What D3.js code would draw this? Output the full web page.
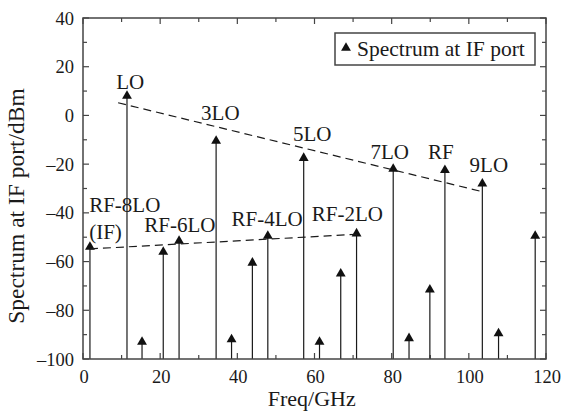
<!DOCTYPE html>
<html>
<head>
<meta charset="utf-8">
<script src="https://cdn.jsdelivr.net/npm/d3@7"></script>
<style>
  body { margin: 0; background: #fff; }
  svg { display: block; font-family: "Liberation Serif", "DejaVu Serif", serif; }
</style>
</head>
<body>
<div class="chart"></div>
<script>
// spectrum lines
const freqs = [1.8, 11.4, 15.3, 20.8, 24.9, 34.5, 38.5, 43.9, 47.9, 57.2, 61.3, 66.8, 70.9, 80.4, 84.5, 89.9, 93.8, 103.5, 107.7, 117.2];
const levels = [-54, 8, -93, -56, -51.5, -10.5, -92, -60.5, -49.5, -17.5, -93, -65, -48.5, -22, -91.5, -71.5, -22.5, -28, -89.5, -49.5];

// annotations (text, freq, level of baseline)
const labelText = ["LO", "3LO", "5LO", "7LO", "RF", "9LO", "RF-8LO", "(IF)", "RF-6LO", "RF-4LO", "RF-2LO"];
const labelFreq = [8.6, 30.6, 54.4, 74.5, 89.4, 100.2, 1.6, 1.6, 15.9, 38.5, 59.3];
const labelLevel = [11, -2, -10.6, -18, -18, -23.4, -39.6, -50.6, -47.9, -45.4, -43.3];

// dashed envelopes
const upperTrend = [[9.1, 5.2], [103.5, -31.3]];
const lowerTrend = [[1.8, -54.8], [72, -48.7]];

const xTicks = [0, 20, 40, 60, 80, 100, 120];
const yTicks = [-100, -80, -60, -40, -20, 0, 20, 40];

const W = 566, H = 413;
const pl = 83, pr = 546, pt = 18, pb = 359;
const ink = "#1a1a1a";
const frame = "#444";

const x = d3.scaleLinear().domain([0, 120]).range([pl, pr]);
const y = d3.scaleLinear().domain([-100, 40]).range([pb, pt]);

const svg = d3.select(".chart").append("svg")
    .attr("width", W)
    .attr("height", H);

// ticks: major + minor, inward on all four sides
const xMinor = d3.range(10, 120, 20);
const yMinor = d3.range(-90, 40, 20);
const tickG = svg.append("g").attr("stroke", frame).attr("stroke-width", 1.2);
xTicks.concat(xMinor).forEach(t => {
    const len = xTicks.includes(t) ? 6 : 4;
    tickG.append("line").attr("x1", x(t)).attr("x2", x(t)).attr("y1", pb).attr("y2", pb - len);
    tickG.append("line").attr("x1", x(t)).attr("x2", x(t)).attr("y1", pt).attr("y2", pt + len);
});
yTicks.concat(yMinor).forEach(t => {
    const len = yTicks.includes(t) ? 6 : 4;
    tickG.append("line").attr("x1", pl).attr("x2", pl + len).attr("y1", y(t)).attr("y2", y(t));
    tickG.append("line").attr("x1", pr).attr("x2", pr - len).attr("y1", y(t)).attr("y2", y(t));
});

// tick labels
svg.append("g").selectAll("text").data(xTicks).join("text")
    .attr("x", d => x(d) + 1)
    .attr("y", pb + 24)
    .attr("text-anchor", "middle")
    .attr("font-size", 18.5)
    .attr("fill", ink)
    .text(d => d);
svg.append("g").selectAll("text").data(yTicks).join("text")
    .attr("x", pl - 9)
    .attr("y", d => y(d) + 6.5)
    .attr("text-anchor", "end")
    .attr("font-size", 18.5)
    .attr("fill", ink)
    .text(d => d < 0 ? "\u2013" + Math.abs(d) : d);

// axis titles
svg.append("text")
    .attr("x", x(59.3))
    .attr("y", 406)
    .attr("text-anchor", "middle")
    .attr("font-size", 22)
    .attr("fill", ink)
    .text("Freq/GHz");
svg.append("text")
    .attr("transform", "translate(24,206) rotate(-90)")
    .attr("text-anchor", "middle")
    .attr("font-size", 23.5)
    .attr("fill", ink)
    .text("Spectrum at IF port/dBm");

// stems
const tri = d3.symbol().type(d3.symbolTriangle).size(42);
const stems = svg.append("g");
freqs.forEach((f, i) => {
    stems.append("line")
        .attr("x1", x(f)).attr("x2", x(f))
        .attr("y1", y(-100)).attr("y2", y(levels[i]))
        .attr("stroke", ink)
        .attr("stroke-width", 1.2);
    stems.append("path")
        .attr("d", tri)
        .attr("transform", `translate(${x(f)},${y(levels[i])})`)
        .attr("fill", "#111");
});

// dashed envelopes
const line = d3.line().x(d => x(d[0])).y(d => y(d[1]));
[upperTrend, lowerTrend].forEach(tr => {
    svg.append("path")
        .attr("d", line(tr))
        .attr("fill", "none")
        .attr("stroke", ink)
        .attr("stroke-width", 1.2)
        .attr("stroke-dasharray", "8,5");
});

// annotations
svg.append("g").selectAll("text").data(labelText).join("text")
    .attr("x", (d, i) => x(labelFreq[i]))
    .attr("y", (d, i) => y(labelLevel[i]))
    .attr("font-size", 21)
    .attr("fill", ink)
    .text(d => d);

// frame
svg.append("rect")
    .attr("x", pl).attr("y", pt)
    .attr("width", pr - pl).attr("height", pb - pt)
    .attr("fill", "none")
    .attr("stroke", frame)
    .attr("stroke-width", 1.5);

// legend
const lg = svg.append("g");
lg.append("rect")
    .attr("x", 335).attr("y", 33)
    .attr("width", 200).attr("height", 32)
    .attr("fill", "#fff")
    .attr("stroke", frame)
    .attr("stroke-width", 1.5);
lg.append("path")
    .attr("d", tri)
    .attr("transform", "translate(346,48)")
    .attr("fill", "#111");
lg.append("text")
    .attr("x", 357).attr("y", 56)
    .attr("font-size", 21.5)
    .attr("fill", ink)
    .text("Spectrum at IF port");
</script>
</body>
</html>
